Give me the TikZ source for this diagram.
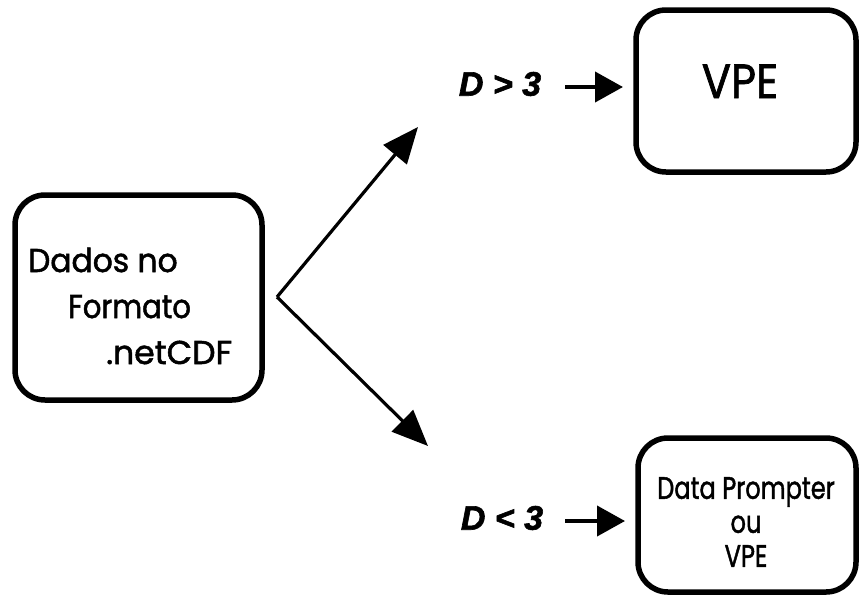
\documentclass[tikz,border=0pt]{standalone}
\usepackage{fontspec}
\newfontfamily\gothic[FakeBold=1.6]{Poppins}
\newfontfamily\lblfont[FakeBold=1.8]{Liberation Sans}
\usetikzlibrary{arrows.meta}
\tikzset{
  box/.style={draw, line width=5.5pt, rounded corners=30pt, inner sep=0pt},
  bigarrow/.style={line width=3.2pt, -{Triangle[length=36pt,width=30pt]}},
  smallarrow/.style={line width=4pt, -{Triangle[length=28pt,width=30pt]}},
  cond/.style={font=\lblfont\bfseries\itshape\fontsize{34}{40}\selectfont, inner sep=0pt},
  txt/.style={font=\gothic\fontsize{33}{40}\selectfont, inner sep=0pt, anchor=base west}
}
\begin{document}
\begin{tikzpicture}[x=1pt,y=-1pt]
\useasboundingbox (0,0) rectangle (859,595);
% boxes
\node[box, minimum width=247pt, minimum height=205pt] (src) at (138.5,297.5) {};
\node[box, minimum width=220pt, minimum height=162pt] (vpe) at (746,91) {};
\node[font=\gothic\fontsize{48}{50}\selectfont, inner sep=0pt, anchor=base] (vpet) at (740,98) {\scalebox{0.9}[1]{VPE}};
\node[box, minimum width=218pt, minimum height=154pt] (dp) at (747,515) {};
\node[align=center, inner sep=0pt, font=\gothic\fontsize{31}{36}\selectfont] (dpt) at (746,522) {\scalebox{0.78}[1]{Data Prompter}\\[-2pt]\scalebox{0.78}[1]{ou}\\[-2pt]\scalebox{0.78}[1]{VPE}};
% source text
\node[txt] (t1) at (28,272) {\scalebox{0.95}[1]{Dados no}};
\node[txt] (t2) at (68,318) {\scalebox{0.88}[1]{Formato}};
\node[txt] (t3) at (106,364) {.netCDF};
% branch arrows
\coordinate (apex) at (277,297);
\coordinate (tipU) at (418,127);
\coordinate (tipL) at (428,446);
\draw[bigarrow] (apex) -- (tipU);
\draw[bigarrow] (apex) -- (tipL);
% conditions
\node[cond] (c1) at (500,84) {D > 3};
\node[cond] (c2) at (502,518) {D < 3};
\coordinate (s1) at (565,87);
\coordinate (e1) at (623,87);
\coordinate (s2) at (565,521);
\coordinate (e2) at (625,521);
\draw[smallarrow] (s1) -- (e1);
\draw[smallarrow] (s2) -- (e2);
\end{tikzpicture}
\end{document}
